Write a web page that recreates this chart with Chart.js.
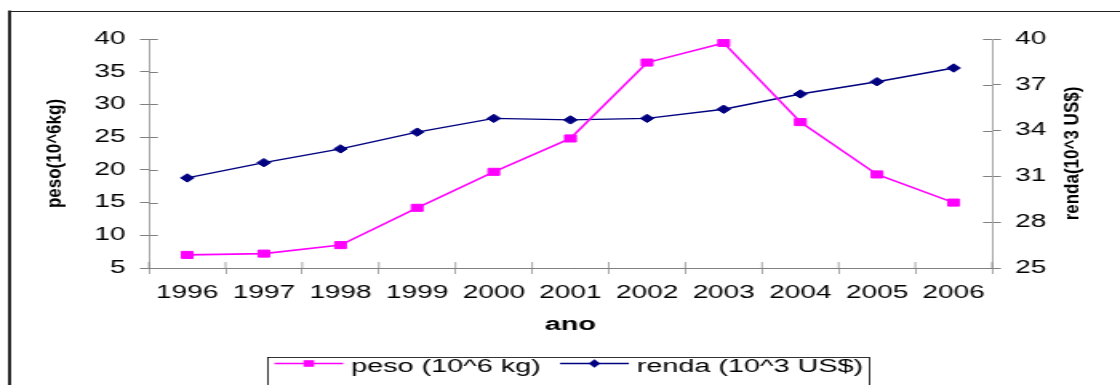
<!DOCTYPE html>
<html>
<head>
<meta charset="utf-8">
<script src="https://cdn.jsdelivr.net/npm/chart.js@4"></script>
<style>
    html, body { margin: 0; padding: 0; background: #fff; overflow: hidden; }
    /* the original picture is stretched sideways, so the chart is drawn narrow and widened */
    #wrap { width: 700px; height: 385px; transform: scaleX(1.6); transform-origin: 0 0; }
</style>
</head>
<body>
<div id="wrap"><canvas id="pesoRendaChart"></canvas></div>
<script>
const years = ['1996', '1997', '1998', '1999', '2000', '2001', '2002', '2003', '2004', '2005', '2006'];
const peso = [7.0, 7.2, 8.5, 14.2, 19.7, 24.8, 36.4, 39.4, 27.3, 19.3, 15.0];   // 10^6 kg
const renda = [30.9, 31.9, 32.8, 33.9, 34.8, 34.7, 34.8, 35.4, 36.4, 37.2, 38.1]; // 10^3 US$
const pesoLabel = 'peso (10^6 kg)';
const rendaLabel = 'renda (10^3 US$)';

const S = 1.6; // same as the scaleX in the css
const FONT = 'Arial, "Liberation Sans", sans-serif';
const AXIS = '#808080';

// sideways text: take back most of the stretch
function sideText(ctx, text, x, y) {
    ctx.save();
    ctx.translate(x, y);
    ctx.scale(1 / 1.35, 1);
    ctx.rotate(-Math.PI / 2);
    ctx.fillText(text, 0, 0);
    ctx.restore();
}

function marker(ctx, style, color, x, y, r) {
    ctx.fillStyle = color;
    ctx.beginPath();
    if (style === 'rect') {
        ctx.rect(x - r, y - r, 2 * r, 2 * r);
    } else {
        ctx.moveTo(x - r, y);
        ctx.lineTo(x, y - r * 1.2);
        ctx.lineTo(x + r, y);
        ctx.lineTo(x, y + r * 1.2);
        ctx.closePath();
    }
    ctx.fill();
}

const extras = {
    id: 'extras',
    afterDraw(chart) {
        const { ctx, chartArea: a, scales } = chart;
        ctx.save();

        // outer frame (only left and top are inside the picture)
        ctx.strokeStyle = '#000';
        ctx.lineWidth = 1.7;
        ctx.beginPath(); ctx.moveTo(6, 10.5); ctx.lineTo(6, 390); ctx.stroke();
        ctx.strokeStyle = '#222';
        ctx.lineWidth = 1;
        ctx.beginPath(); ctx.moveTo(5, 11.5); ctx.lineTo(710, 11.5); ctx.stroke();

        // inner half of the crossing tick marks
        ctx.strokeStyle = AXIS;
        ctx.lineWidth = 1;
        scales.yPeso.ticks.forEach(t => {
            const y = Math.round(scales.yPeso.getPixelForValue(t.value)) + 0.5;
            ctx.beginPath(); ctx.moveTo(a.left, y); ctx.lineTo(a.left + 5.6, y); ctx.stroke();
        });
        scales.yRenda.ticks.forEach(t => {
            const y = Math.round(scales.yRenda.getPixelForValue(t.value)) + 0.5;
            ctx.beginPath(); ctx.moveTo(a.right - 5.6, y); ctx.lineTo(a.right, y); ctx.stroke();
        });
        ctx.lineWidth = 0.7;
        for (let i = 0; i <= years.length; i++) {
            const x = scales.x.getPixelForValue(i - 0.5);
            ctx.beginPath(); ctx.moveTo(x, a.bottom); ctx.lineTo(x, a.bottom - 6); ctx.stroke();
        }

        // axis titles
        ctx.fillStyle = '#000';
        ctx.textAlign = 'center';
        ctx.textBaseline = 'middle';
        ctx.font = 'bold 17px ' + FONT;
        sideText(ctx, 'peso(10^6kg)', 34.4, (a.top + a.bottom) / 2);
        sideText(ctx, 'renda(10^3 US$)', 670.3, (a.top + a.bottom) / 2);
        ctx.textBaseline = 'alphabetic';
        ctx.font = 'bold 18px ' + FONT;
        ctx.fillText('ano', (a.left + a.right) / 2, 330);

        // legend in a box
        ctx.font = '18px ' + FONT;
        const items = chart.data.datasets.map(ds => ({
            text: ds.label, color: ds.borderColor, style: ds.pointStyle,
            w: ctx.measureText(ds.label).width
        }));
        const lineLen = 43, gapText = 5, gapItem = 12, pad = 4;
        let boxW = pad * 2 + gapItem * (items.length - 1);
        items.forEach(it => { boxW += lineLen + gapText + it.w; });
        const boxX = (a.left + a.right) / 2 - boxW / 2 - 1;
        const boxY = 357.5;
        ctx.strokeStyle = '#000';
        ctx.lineWidth = 0.8;
        ctx.strokeRect(boxX, boxY, boxW, 40);

        let x = boxX + pad;
        const ly = 363.5;
        ctx.textAlign = 'left';
        items.forEach(it => {
            ctx.strokeStyle = it.color;
            ctx.lineWidth = 1.4;
            ctx.beginPath(); ctx.moveTo(x, ly); ctx.lineTo(x + lineLen, ly); ctx.stroke();
            marker(ctx, it.style, it.color, x + lineLen / 2, ly, it.style === 'rect' ? 3.3 : 3.6);
            x += lineLen + gapText;
            ctx.fillStyle = '#000';
            ctx.fillText(it.text, x, 372);
            x += it.w + gapItem;
        });

        ctx.restore();
    }
};

const ctx = document.getElementById('pesoRendaChart').getContext('2d');
new Chart(ctx, {
    type: 'line',
    data: {
        labels: years,
        datasets: [{
            label: pesoLabel,
            data: peso,
            yAxisID: 'yPeso',
            borderColor: '#FF00FF',
            backgroundColor: '#FF00FF',
            borderWidth: 1.6,
            pointStyle: 'rect',
            pointRadius: 5,
            pointBorderWidth: 1,
            pointBorderColor: '#FF00FF',
            pointBackgroundColor: '#FF00FF',
            fill: false,
            tension: 0
        }, {
            label: rendaLabel,
            data: renda,
            yAxisID: 'yRenda',
            borderColor: '#000080',
            backgroundColor: '#000080',
            borderWidth: 1.4,
            pointStyle: 'rectRot',
            pointRadius: 4.2,
            pointBorderWidth: 1,
            pointBorderColor: '#000080',
            pointBackgroundColor: '#000080',
            fill: false,
            tension: 0
        }]
    },
    options: {
        responsive: true,
        maintainAspectRatio: false,
        animation: false,
        devicePixelRatio: 1,
        layout: { padding: { top: 39, left: 0, right: 0, bottom: 0 } },
        plugins: {
            legend: { display: false },
            tooltip: { enabled: false }
        },
        scales: {
            x: {
                type: 'category',
                offset: true,
                grid: { offset: true, drawOnChartArea: false, drawTicks: true, tickLength: 6, color: AXIS, lineWidth: 0.7 },
                border: { display: true, color: AXIS, width: 1 },
                ticks: { color: '#000', font: { family: FONT, size: 17.5 }, padding: 9, maxRotation: 0, autoSkip: false },
                afterFit: scale => { scale.height = 117; }
            },
            yPeso: {
                position: 'left',
                min: 5,
                max: 40,
                ticks: { stepSize: 5, color: '#000', font: { family: FONT, size: 17.5 }, padding: 9 },
                grid: { drawOnChartArea: false, drawTicks: true, tickLength: 5.6, color: AXIS, lineWidth: 1 },
                border: { display: true, color: AXIS, width: 0.7 },
                afterFit: scale => { scale.width = 93.1; }
            },
            yRenda: {
                position: 'right',
                min: 25,
                max: 40,
                ticks: { stepSize: 3, color: '#000', font: { family: FONT, size: 17.5 }, padding: 9 },
                grid: { drawOnChartArea: false, drawTicks: true, tickLength: 5.6, color: AXIS, lineWidth: 1 },
                border: { display: true, color: AXIS, width: 0.7 },
                afterFit: scale => { scale.width = 80; }
            }
        }
    },
    plugins: [extras]
});
</script>
</body>
</html>
